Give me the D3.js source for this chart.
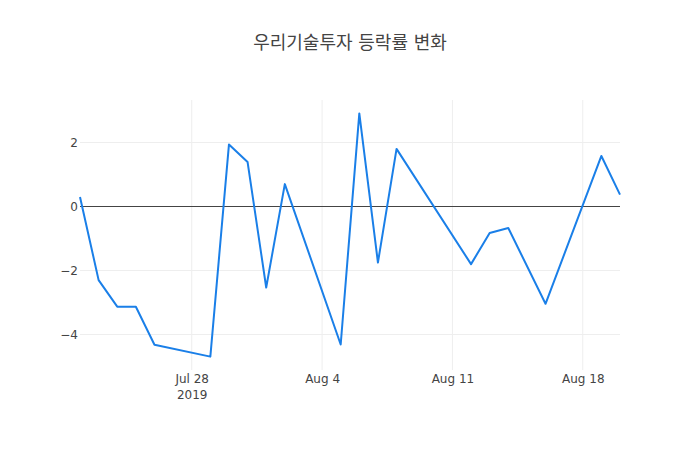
<!DOCTYPE html>
<html>
<head>
<meta charset="utf-8">
<script src="https://cdn.jsdelivr.net/npm/d3@7"></script>
<style>
  body { margin: 0; background: #fff; }
  text { font-family: "DejaVu Sans", "Noto Sans CJK KR", sans-serif; fill: #444; }
</style>
</head>
<body>
<div id="chart"></div>
<script>
const width = 700
const height = 450
const margin = {top: 100, right: 80, bottom: 80, left: 80}

const title = "우리기술투자 등락률 변화"
const dates = ["2019-07-22", "2019-07-23", "2019-07-24", "2019-07-25", "2019-07-26",
    "2019-07-29", "2019-07-30", "2019-07-31", "2019-08-01", "2019-08-02",
    "2019-08-05", "2019-08-06", "2019-08-07", "2019-08-08",
    "2019-08-12", "2019-08-13", "2019-08-14", "2019-08-16",
    "2019-08-19", "2019-08-20"]
const changes = [0.30, -2.30, -3.13, -3.13, -4.32,
    -4.69, 1.94, 1.39, -2.53, 0.70,
    -4.31, 2.91, -1.75, 1.80,
    -1.80, -0.83, -0.67, -3.04,
    1.58, 0.37]
const xTicks = ["2019-07-28", "2019-08-04", "2019-08-11", "2019-08-18"]
const yTicks = [-4, -2, 0, 2]

const parse = d3.utcParse("%Y-%m-%d")
const data = dates.map((d, i) => ({date: parse(d), value: changes[i]}))

const innerW = width - margin.left - margin.right
const innerH = height - margin.top - margin.bottom

const svg = d3.select("div#chart").append("svg").attr("width", width).attr("height", height)

const x = d3.scaleUtc().domain(d3.extent(data, d => d.date)).range([0, innerW])
const yMin = d3.min(changes), yMax = d3.max(changes)
const pad = (yMax - yMin) * 0.055
const y = d3.scaleLinear().domain([yMin - pad, yMax + pad]).range([innerH, 0])

const g = svg.append("g").attr("transform", `translate(${margin.left}, ${margin.top})`)

// grid
g.append("g").selectAll("line").data(xTicks.map(parse)).enter().append("line")
    .attr("x1", d => x(d)).attr("x2", d => x(d))
    .attr("y1", 0).attr("y2", innerH)
    .attr("stroke", "#eee").attr("stroke-width", 1)
g.append("g").selectAll("line").data(yTicks.filter(t => t !== 0)).enter().append("line")
    .attr("x1", 0).attr("x2", innerW)
    .attr("y1", d => y(d)).attr("y2", d => y(d))
    .attr("stroke", "#eee").attr("stroke-width", 1)

// zero line
g.append("line").attr("x1", 0).attr("x2", innerW)
    .attr("y1", y(0)).attr("y2", y(0))
    .attr("stroke", "#444").attr("stroke-width", 1)

// axes
const xAxis = d3.axisBottom(x).tickValues(xTicks.map(parse)).tickSize(0).tickPadding(0)
    .tickFormat(d3.utcFormat("%b %-d"))
const xAxisGroup = g.append("g").attr("transform", `translate(0, ${innerH})`).call(xAxis)
xAxisGroup.select(".domain").remove()
xAxisGroup.selectAll("text").attr("font-size", 12).attr("dy", "1.05em").style("fill", "#444")
    .attr("font-family", "DejaVu Sans, sans-serif")
xAxisGroup.selectAll(".tick").filter((d, i) => i === 0).append("text")
    .attr("y", 0).attr("dy", "2.4em").attr("text-anchor", "middle")
    .attr("font-size", 12).style("fill", "#444").text("2019")

const yAxis = d3.axisLeft(y).tickValues(yTicks).tickSize(0).tickPadding(2)
    .tickFormat(d => d < 0 ? "\u2212" + Math.abs(d) : d)
const yAxisGroup = g.append("g").call(yAxis)
yAxisGroup.select(".domain").remove()
yAxisGroup.selectAll("text").attr("font-size", 12).attr("dy", "0.35em").style("fill", "#444")
    .attr("font-family", "DejaVu Sans, sans-serif")

// line
const line = d3.line().x(d => x(d.date)).y(d => y(d.value))
g.append("path").datum(data)
    .attr("d", line)
    .attr("fill", "none")
    .attr("stroke", "#1a7fe8")
    .attr("stroke-width", 2)
    .attr("stroke-linejoin", "round")

// title
svg.append("text").attr("x", width / 2).attr("y", 49)
    .attr("text-anchor", "middle")
    .attr("font-size", 18)
    .attr("font-family", "Noto Sans CJK KR, sans-serif")
    .text(title)
</script>
</body>
</html>
